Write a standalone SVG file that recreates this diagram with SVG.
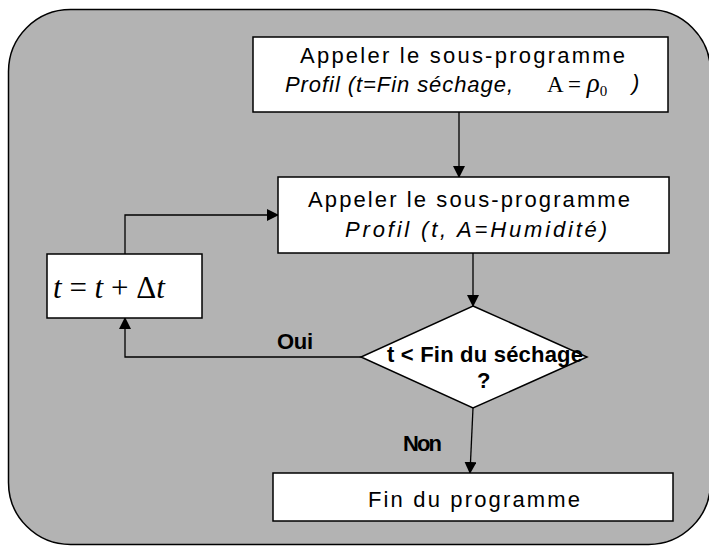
<svg xmlns="http://www.w3.org/2000/svg" width="709" height="547" viewBox="0 0 709 547">
<style>
.box{fill:#fff;stroke:#000;stroke-width:1.5}
.t{font-family:"Comic Sans MS","Liberation Sans","DejaVu Sans",sans-serif;font-size:22px;fill:#000}
.it{font-style:italic}
.m{font-family:"Liberation Serif","Times New Roman",serif;fill:#000}
.c{fill:none;stroke:#000;stroke-width:1.3}
</style>
<defs>
<marker id="ah" markerWidth="12" markerHeight="12" refX="11" refY="6" orient="auto" markerUnits="userSpaceOnUse">
<path d="M0,0 L12,6 L0,12 Z" fill="#000"/>
</marker>
</defs>
<rect x="8.5" y="9.5" width="702" height="535" rx="62" ry="62" fill="#b3b3b3" stroke="#000" stroke-width="1.5"/>
<g id="connectors">
<line class="c" x1="459" y1="112" x2="459" y2="177" marker-end="url(#ah)"/>
<polyline class="c" points="125,254 125,215 278,215" marker-end="url(#ah)"/>
<line class="c" x1="473" y1="253" x2="473" y2="306" marker-end="url(#ah)"/>
<polyline class="c" points="361,357 125,357 125,318" marker-end="url(#ah)"/>
<line class="c" x1="473" y1="408" x2="470" y2="473" marker-end="url(#ah)"/>
<text class="t" x="277" y="349" font-size="17" font-weight="bold" textLength="36">Oui</text>
<text class="t" x="403" y="451" font-size="17" font-weight="bold" textLength="39">Non</text>
</g>
<g id="call1">
<rect class="box" x="253" y="37" width="415" height="75"/>
<text class="t" x="300" y="63" textLength="325">Appeler le sous-programme</text>
<text class="t it" x="285" y="92" textLength="228">Profil (t=Fin séchage,</text>
<text class="m" x="547" y="92" font-size="23">A = <tspan font-style="italic" font-size="27">ρ</tspan><tspan font-size="15" dy="4">0</tspan></text>
<text class="t it" x="632" y="90">)</text>
</g>
<g id="call2">
<rect class="box" x="278" y="177" width="391" height="76"/>
<text class="t" x="308" y="207" textLength="322">Appeler le sous-programme</text>
<text class="t it" x="345" y="237" textLength="262">Profil (t, A=Humidité)</text>
</g>
<g id="increment">
<rect class="box" x="47" y="254" width="155" height="64"/>
<text class="m" x="53" y="298" font-size="31"><tspan font-style="italic">t</tspan> = <tspan font-style="italic">t</tspan> + Δ<tspan font-style="italic">t</tspan></text>
</g>
<g id="decision">
<polygon class="box" points="473,306 587,357 473,408 361,357"/>
<text class="t" x="387" y="362" font-size="18" font-weight="bold" textLength="196">t &lt; Fin du séchage</text>
<text class="t" x="477" y="388" font-size="18" font-weight="bold">?</text>
</g>
<g id="end">
<rect class="box" x="273" y="473" width="400" height="48"/>
<text class="t" x="368" y="507" textLength="212">Fin du programme</text>
</g>
</svg>
